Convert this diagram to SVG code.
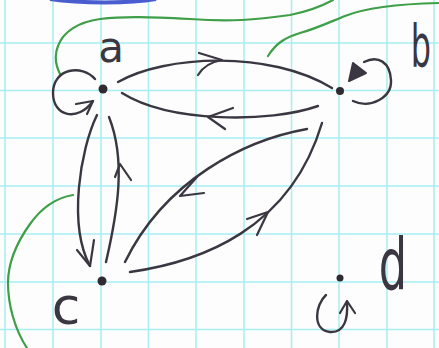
<svg xmlns="http://www.w3.org/2000/svg" width="439" height="348" viewBox="0 0 439 348">
<style>
.grid line{stroke:#a6eef2;stroke-width:1.5}
.edge{fill:none;stroke:#3b3742;stroke-width:2.4;stroke-linecap:round;stroke-linejoin:round}
.head{fill:none;stroke:#3b3742;stroke-width:2.2;stroke-linecap:round;stroke-linejoin:round}
.green{fill:none;stroke:#3e9f48;stroke-width:2.2;stroke-linecap:round}
.dot{fill:#2f2b33}
.lbl{font-family:"DejaVu Sans",sans-serif;fill:#3b3742}
</style>
<rect width="439" height="348" fill="#fdfdfd"/>
<g class="grid">
<line x1="5" y1="0" x2="5" y2="348"/><line x1="53" y1="0" x2="53" y2="348"/><line x1="101" y1="0" x2="101" y2="348"/><line x1="148.5" y1="0" x2="148.5" y2="348"/><line x1="196" y1="0" x2="196" y2="348"/><line x1="244" y1="0" x2="244" y2="348"/><line x1="291.5" y1="0" x2="291.5" y2="348"/><line x1="339" y1="0" x2="339" y2="348"/><line x1="387" y1="0" x2="387" y2="348"/><line x1="434" y1="0" x2="434" y2="348"/>
<line x1="0" y1="43" x2="439" y2="43"/><line x1="0" y1="90.5" x2="439" y2="90.5"/><line x1="0" y1="138" x2="439" y2="138"/><line x1="0" y1="186" x2="439" y2="186"/><line x1="0" y1="234" x2="439" y2="234"/><line x1="0" y1="282" x2="439" y2="282"/><line x1="0" y1="329.5" x2="439" y2="329.5"/>
</g>
<path d="M50,-1 C80,3.5 130,3.5 156,-1" fill="none" stroke="#4a5dd0" stroke-width="4"/>
<g id="annotations">
<path class="green" d="M60,74 C56,66 54,56 58,46 C63,32 78,22 100,19 C125,16 150,17 190,19 C230,22 255,20 290,15 C310,11 322,6 333,0"/>
<path class="green" d="M268,56 C275,45 283,38 300,33 C315,29 330,22 345,16 C365,8 395,4 439,3"/>
<path class="green" d="M73,195 C55,198 40,210 30,224 C15,245 8,265 8,283 C8,305 15,330 27,348"/>
</g>
<g id="connectors">
<path class="edge" d="M118,82 C165,55 270,50 332,88"/>
<path class="head" d="M199,53 L222,60 M222,60 Q205,63 198,75"/>
<path class="edge" d="M318,106 C270,123 170,123 122,93"/>
<path class="head" d="M233,108 L208,117 M208,117 L225,129"/>
<path class="edge" d="M97,115 C80,150 68,225 90,266"/>
<path class="head" d="M77,250 L90,266 L94,240"/>
<path class="edge" d="M106,262 C118,210 126,160 109,117"/>
<path class="head" d="M115,177 L120,164 L131,180"/>
<path class="edge" d="M307,129 C245,140 165,180 125,262"/>
<path class="head" d="M204,193 L180,196 L197,177"/>
<path class="edge" d="M130,272 C200,262 290,230 322,123"/>
<path class="head" d="M247,219 L268,212 L257,235"/>
<path class="edge" stroke-width="3.2" d="M95,79 C82,64 53,68 53,93 C53,117 78,122 93,101"/>
<path class="head" stroke-width="3" d="M76,104 L93,101 L87,114"/>
<path class="edge" d="M353,101 C370,109 392,98 391,80 C390,62 378,55 364,62"/>
<polygon points="349,81 353,63 366,73" fill="#3b3742" stroke="#3b3742" stroke-width="2" stroke-linejoin="round"/>
<path class="edge" d="M326,295 C315,305 312,330 330,332 C345,333 348,318 347,302"/>
<path class="head" d="M340,313 L347,301 L355,313"/>
</g>
<g id="node-a"><circle class="dot" cx="103" cy="89" r="4.5"/><text class="lbl" x="111" y="62" font-size="42" text-anchor="middle">a</text></g>
<g id="node-b"><circle class="dot" cx="340" cy="91" r="4"/><text class="lbl" font-size="58" text-anchor="middle" transform="translate(421,67) scale(0.55,1)">b</text></g>
<g id="node-c"><circle class="dot" cx="102" cy="281" r="4.5"/><text class="lbl" x="66" y="324" font-size="52" text-anchor="middle">c</text></g>
<g id="node-d"><circle class="dot" cx="340" cy="278" r="3.5"/><text class="lbl" font-size="72" text-anchor="middle" transform="translate(393,289) scale(0.62,1)">d</text></g>
</svg>
